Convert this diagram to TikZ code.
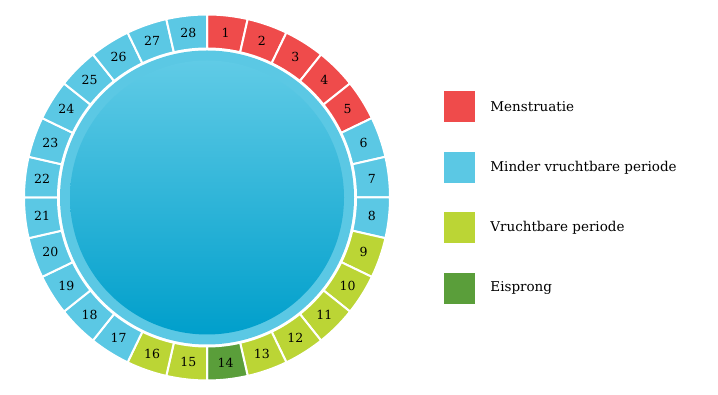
\documentclass[tikz,border=0pt]{standalone}
\usepackage{fontspec}
\setmainfont{DejaVu Serif}
\usepackage{tikz}
\usetikzlibrary{positioning}

\definecolor{mensred}{HTML}{EF4B4B}
\definecolor{lowblue}{HTML}{5BC8E4}
\definecolor{fertlime}{HTML}{BBD535}
\definecolor{ovugreen}{HTML}{5A9E3A}
\definecolor{disctop}{HTML}{60CBE6}
\definecolor{discbot}{HTML}{009FCB}

\tikzset{
  daylabel/.style={font=\fontsize{12.5}{14}\selectfont, text=black, inner sep=0pt},
  legbox/.style={minimum size=31pt, inner sep=0pt},
  legtext/.style={font=\fontsize{13.5}{16}\selectfont, text=black, inner sep=0pt, anchor=west}
}

\begin{document}
\begin{tikzpicture}[x=1pt,y=1pt]
    \useasboundingbox (0,0) rectangle (718,395);
    \coordinate (c) at (207,197.5);

    % CYCLE disc
    \fill[lowblue] (c) circle (147);
    \shade[top color=disctop, bottom color=discbot] (c) circle (137);

    % 28 days round the disc, day 1 at the top, clockwise
    \foreach \d/\col in {1/mensred,2/mensred,3/mensred,4/mensred,5/mensred,
                         6/lowblue,7/lowblue,8/lowblue,
                         9/fertlime,10/fertlime,11/fertlime,12/fertlime,13/fertlime,
                         14/ovugreen,15/fertlime,16/fertlime,
                         17/lowblue,18/lowblue,19/lowblue,20/lowblue,21/lowblue,22/lowblue,
                         23/lowblue,24/lowblue,25/lowblue,26/lowblue,27/lowblue,28/lowblue} {
        \pgfmathsetmacro{\a}{90-(\d-1)*360/28}
        \pgfmathsetmacro{\b}{\a-360/28}
        \pgfmathsetmacro{\m}{(\a+\b)/2}
        \filldraw[fill=\col, draw=white, line width=2pt]
            ([shift={(\a:183)}]c) arc[start angle=\a, end angle=\b, radius=183]
            -- ([shift={(\b:149)}]c) arc[start angle=\b, end angle=\a, radius=149] -- cycle;
        \node[daylabel] (d\d) at ([shift={(\m:166)}]c) {\d};
    }

    % LEGEND
    \node[legbox, fill=mensred] (lmens) at (459.5,288) {};
    \node[legtext, right=15pt of lmens] (tmens) {Menstruatie};
    \node[legbox, fill=lowblue, below=29pt of lmens] (llow) {};
    \node[legtext, right=15pt of llow] (tlow) {Minder vruchtbare periode};
    \node[legbox, fill=fertlime, below=29pt of llow] (lfert) {};
    \node[legtext, right=15pt of lfert] (tfert) {Vruchtbare periode};
    \node[legbox, fill=ovugreen, below=29pt of lfert] (lovu) {};
    \node[legtext, right=15pt of lovu] (tovu) {Eisprong};
\end{tikzpicture}
\end{document}
